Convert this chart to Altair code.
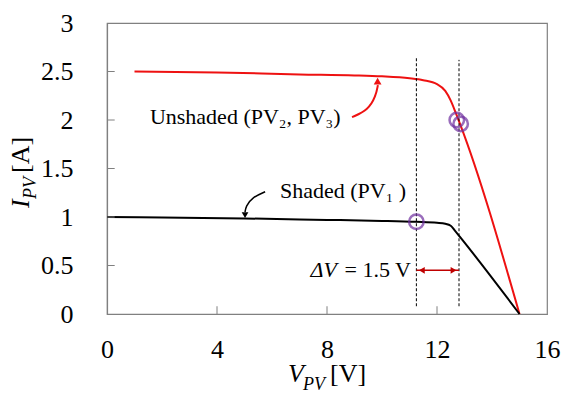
import altair as alt
import pandas as pd

# Unshaded (PV2, PV3) curve
red_v = [1, 4, 7, 9, 10, 11, 11.5, 12, 12.3, 12.5, 12.7, 12.85, 15]
red_i = [2.5, 2.49, 2.47, 2.46, 2.45, 2.43, 2.41, 2.37, 2.30, 2.20, 2.06, 1.95, 0]
# Shaded (PV1) curve
blk_v = [0, 2, 5, 8, 10, 11.25, 12, 12.3, 12.5, 12.65, 12.85, 15]
blk_i = [1.0, 0.995, 0.985, 0.97, 0.96, 0.95, 0.94, 0.93, 0.91, 0.86, 0.79, 0]
# operating points (circles)
op_v = [11.25, 12.72, 12.86]
op_i = [0.95, 2.0, 1.96]
# dashed markers
dash_v = [11.25, 12.8]
x_ticks = [0, 4, 8, 12, 16]
y_ticks = [0, 0.5, 1, 1.5, 2, 2.5, 3]

FONT = "Liberation Serif, DejaVu Serif, Times New Roman, serif"
GRAY = "#808080"
RED = "#ee1111"
PURPLE = "#7030a0"

xs = alt.Scale(domain=[0, 16], nice=False, zero=False)
ys = alt.Scale(domain=[0, 3], nice=False, zero=False)

red_df = pd.DataFrame({"v": red_v, "i": red_i})
blk_df = pd.DataFrame({"v": blk_v, "i": blk_i})

base_x = alt.X("v:Q", scale=xs, axis=alt.Axis(values=x_ticks, title=None, ticks=False,
               labelFont=FONT, labelFontSize=26, labelColor="black", labelPadding=22,
               domainColor=GRAY, grid=False, labelFlush=False))
base_y = alt.Y("i:Q", scale=ys, axis=alt.Axis(values=y_ticks, title=None, ticks=False,
               labelFont=FONT, labelFontSize=26, labelColor="black", labelPadding=34,
               domainColor=GRAY, grid=False, labelFlush=False,
               labelExpr="datum.value"))

red_line = alt.Chart(red_df).mark_line(color=RED, strokeWidth=2, interpolate="monotone").encode(
    x=base_x, y=base_y)
blk_line = alt.Chart(blk_df).mark_line(color="black", strokeWidth=2, interpolate="monotone").encode(
    x="v:Q", y="i:Q")

# inward ticks
xt = pd.DataFrame({"v": [4, 8, 12], "i": [0] * 3, "i2": [0.08] * 3})
yt = pd.DataFrame({"i": [0.5, 1, 1.5, 2, 2.5], "v": [0] * 5, "v2": [0.28] * 5})
xtick = alt.Chart(xt).mark_rule(color=GRAY, strokeWidth=1).encode(x="v:Q", y="i:Q", y2="i2:Q")
ytick = alt.Chart(yt).mark_rule(color=GRAY, strokeWidth=1).encode(y="i:Q", x="v:Q", x2="v2:Q")

# dashed verticals
dd = pd.DataFrame({"v": dash_v, "i": [0.08, 0.08], "i2": [2.65, 2.62]})
dashes = alt.Chart(dd).mark_rule(color="black", strokeWidth=1, strokeDash=[3, 2]).encode(
    x="v:Q", y="i:Q", y2="i2:Q")

circles = alt.Chart(pd.DataFrame({"v": op_v, "i": op_i})).mark_point(
    shape="circle", filled=False, color=PURPLE, strokeWidth=2.5, size=210).encode(x="v:Q", y="i:Q")

# delta V double arrow
dv = pd.DataFrame({"v": [dash_v[0]], "v2": [dash_v[1]], "i": [0.45]})
dv_rule = alt.Chart(dv).mark_rule(color="#c00000", strokeWidth=1.5).encode(x="v:Q", x2="v2:Q", y="i:Q")
heads = pd.DataFrame({"v": [dash_v[0] + 0.2, dash_v[1] - 0.2], "i": [0.45, 0.45],
                      "s": ["triangle-left", "triangle-right"]})
dv_heads = alt.Chart(heads).mark_point(filled=True, color="#c00000", size=45, opacity=1).encode(
    x="v:Q", y="i:Q", shape=alt.Shape("s:N", scale=None, legend=None))

# curved annotation arrows
ra = pd.DataFrame({"v": [8.91, 9.49, 9.78, 9.85], "i": [2.03, 2.10, 2.25, 2.36]})
ra_line = alt.Chart(ra).mark_line(color=RED, strokeWidth=2, interpolate="basis").encode(x="v:Q", y="i:Q")
ra_head = alt.Chart(pd.DataFrame({"v": [9.84], "i": [2.4]})).mark_point(
    shape="triangle-up", filled=True, color=RED, size=60, opacity=1).encode(x="v:Q", y="i:Q")
ba = pd.DataFrame({"v": [5.75, 5.27, 5.05, 5.02], "i": [1.26, 1.20, 1.11, 1.05]})
ba_line = alt.Chart(ba).mark_line(color="black", strokeWidth=1.5, interpolate="basis").encode(x="v:Q", y="i:Q")
ba_head = alt.Chart(pd.DataFrame({"v": [5.02], "i": [1.02]})).mark_point(
    shape="triangle-down", filled=True, color="black", size=45, opacity=1).encode(x="v:Q", y="i:Q")

# annotation texts
txt = pd.DataFrame({
    "v": [1.56, 6.29],
    "i": [2.03, 1.27],
    "t": ["Unshaded (PV₂, PV₃)", "Shaded (PV₁ )"],
})
texts = alt.Chart(txt).mark_text(font=FONT, fontSize=22, align="left", baseline="middle",
                                 color="black").encode(x="v:Q", y="i:Q", text="t:N")
dvt = alt.Chart(pd.DataFrame({"v": [11.05], "i": [0.45]}))
dv_txt1 = dvt.mark_text(font=FONT, fontSize=22, align="right", baseline="middle", dx=-74,
                        fontStyle="italic").encode(x="v:Q", y="i:Q", text=alt.value("ΔV"))
dv_txt2 = dvt.mark_text(font=FONT, fontSize=22, align="right", baseline="middle").encode(
    x="v:Q", y="i:Q", text=alt.value("= 1.5 V"))

# axis titles (mixed italic / subscript)
one = alt.Chart(pd.DataFrame({"a": [0]}))
xt1 = one.mark_text(font=FONT, fontSize=26, fontStyle="italic", align="left", baseline="alphabetic").encode(
    x=alt.value(181), y=alt.value(359), text=alt.value("V"))
xt2 = one.mark_text(font=FONT, fontSize=18, fontStyle="italic", align="left", baseline="alphabetic").encode(
    x=alt.value(196), y=alt.value(367), text=alt.value("PV"))
xt3 = one.mark_text(font=FONT, fontSize=26, align="left", baseline="alphabetic").encode(
    x=alt.value(223), y=alt.value(359), text=alt.value("[V]"))
yt1 = one.mark_text(font=FONT, fontSize=26, fontStyle="italic", align="left", baseline="alphabetic",
                    angle=270).encode(x=alt.value(-78), y=alt.value(185), text=alt.value("I"))
yt2 = one.mark_text(font=FONT, fontSize=18, fontStyle="italic", align="left", baseline="alphabetic",
                    angle=270).encode(x=alt.value(-71), y=alt.value(176), text=alt.value("PV"))
yt3 = one.mark_text(font=FONT, fontSize=26, align="left", baseline="alphabetic",
                    angle=270).encode(x=alt.value(-78), y=alt.value(150), text=alt.value("[A]"))

chart = alt.layer(
    red_line, blk_line, xtick, ytick, dashes, circles, dv_rule, dv_heads,
    ra_line, ra_head, ba_line, ba_head, texts, dv_txt1, dv_txt2,
    xt1, xt2, xt3, yt1, yt2, yt3,
).properties(
    width=440, height=291,
    autosize=alt.AutoSizeParams(type="none"),
    padding={"left": 107, "top": 23, "right": 15, "bottom": 85},
    background="white",
).configure_view(stroke=GRAY, strokeWidth=1.2).configure_axis(domainWidth=1.2)

chart.save("out.html", embed_options={"renderer": "svg", "actions": False})
